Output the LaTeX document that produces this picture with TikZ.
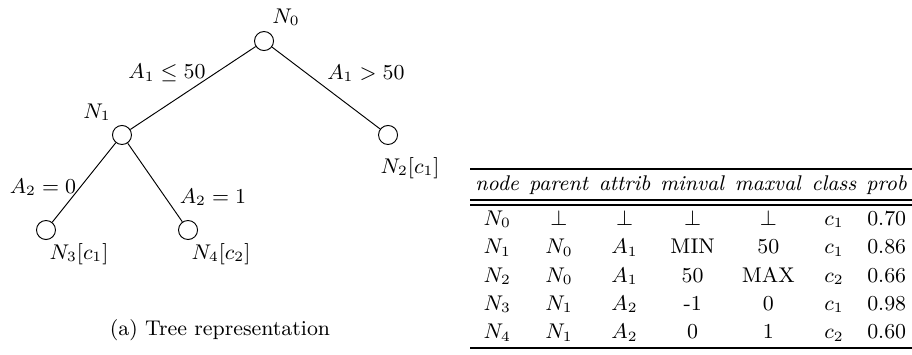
\documentclass[tikz,border=0pt]{standalone}
\tikzset{
  tnode/.style  = {circle, draw, inner sep=0pt, minimum size=0.283cm, line width=0.4pt},
  lbl/.style    = {font=\small, inner sep=1pt},
  branch/.style = {line width=0.4pt},
}

\begin{document}
\begin{tikzpicture}
  \useasboundingbox (0,0) rectangle (13.561,5.264);
  % tree
  \node[tnode] (n0) at (3.926,4.654) {};
  \node[tnode] (n1) at (1.814,3.257) {};
  \node[tnode] (n2) at (5.770,3.257) {};
  \node[tnode] (n3) at (0.684,1.844) {};
  \node[tnode] (n4) at (2.796,1.844) {};
  \draw[branch] (n0) -- (n1);
  \draw[branch] (n0) -- (n2);
  \draw[branch] (n1) -- (n3);
  \draw[branch] (n1) -- (n4);
  % node and branch labels
  \node[lbl] (l0) at (4.253,5.011) {$N_0$};
  \node[lbl] (l1) at (1.442,3.599) {$N_1$};
  \node[lbl] (l2) at (6.097,2.766) {$N_2[c_1]$};
  \node[lbl] (l3) at (1.175,1.487) {$N_3[c_1]$};
  \node[lbl] (l4) at (3.286,1.487) {$N_4[c_2]$};
  \node[lbl] (b01) at (2.483,4.178) {$A_1 \leq 50$};
  \node[lbl] (b02) at (5.442,4.178) {$A_1 > 50$};
  \node[lbl] (b13) at (0.639,2.483) {$A_2 = 0$};
  \node[lbl] (b14) at (3.167,2.335) {$A_2 = 1$};
  \node[font=\fontsize{9}{12}\selectfont] (cap) at (3.271,0.357) {(a) Tree representation};
  % table
  \node[anchor=north west, inner sep=0pt] (tab) at (6.989,2.766) {%
    \fontsize{9}{12}\selectfont
    \setlength{\tabcolsep}{2.1pt}\setlength{\arrayrulewidth}{0.85pt}%
    \begin{tabular}{ccccccc}
      \hline
      \textit{node} & \textit{parent} & \textit{attrib} & \textit{minval} & \textit{maxval} & \textit{class} & \textit{prob} \\
      \hline\hline
      $N_0$ & $\perp$ & $\perp$ & $\perp$ & $\perp$ & $c_1$ & 0.70 \\
      $N_1$ & $N_0$ & $A_1$ & MIN & 50 & $c_1$ & 0.86 \\
      $N_2$ & $N_0$ & $A_1$ & 50 & MAX & $c_2$ & 0.66 \\
      $N_3$ & $N_1$ & $A_2$ & -1 & 0 & $c_1$ & 0.98 \\
      $N_4$ & $N_1$ & $A_2$ & 0 & 1 & $c_2$ & 0.60 \\
      \hline
    \end{tabular}};
\end{tikzpicture}
\end{document}
